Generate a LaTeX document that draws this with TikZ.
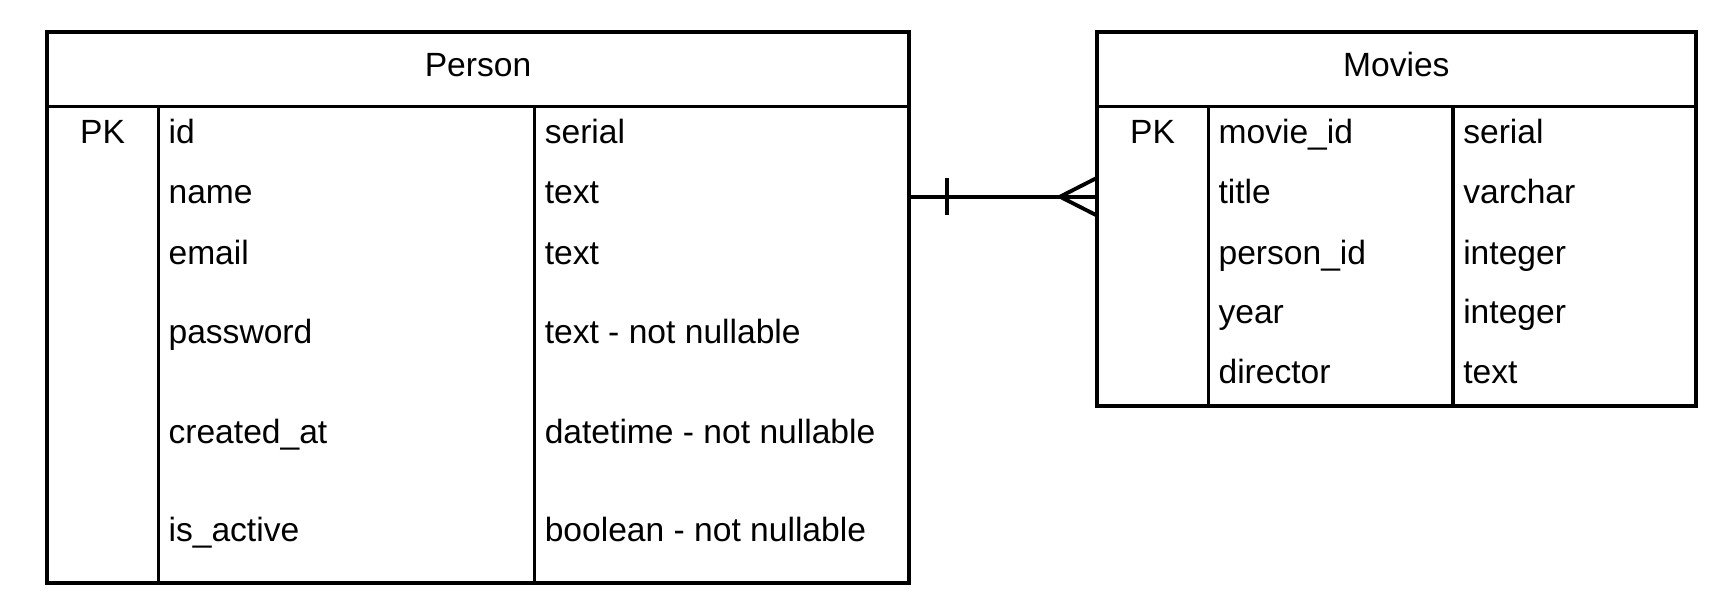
\documentclass[tikz,border=0pt]{standalone}
\usepackage{fontspec}
\setmainfont{Liberation Sans}
\usetikzlibrary{calc}

\tikzset{
  field/.style={anchor=base west, inner sep=0pt},
  keycell/.style={anchor=base, inner sep=0pt},
  tabletitle/.style={anchor=base, inner sep=0pt},
  frame/.style={line width=2.9pt},
  divider/.style={line width=2.4pt},
  relation/.style={line width=2.9pt},
}

\begin{document}
\begin{tikzpicture}[x=0.75pt,y=0.75pt,yscale=-1,xscale=1,font=\fontsize{25.2}{30}\selectfont]

\useasboundingbox (0,0) rectangle (1733,606);

% Person table
\draw[frame]   (46.7,32.3) rectangle (909.3,583.3) ;

\draw[frame]   (46.7,106.5) -- (909.3,106.5) ;

\draw[divider]   (158.3,106.5) -- (158.3,583.3) ;

\draw[divider]   (534.3,106.5) -- (534.3,583.3) ;

% Movies table
\draw[frame]   (1096.7,32.3) rectangle (1696,406) ;

\draw[frame]   (1096.7,106.5) -- (1696,106.5) ;

\draw[divider]   (1208.3,106.5) -- (1208.3,406) ;

\draw[divider]   (1453,106.5) -- (1453,406) ;

% relation person -> movies
\coordinate (personR) at (909.3,196.7);
\coordinate (moviesL) at (1096.7,196.7);

\draw[relation]   (personR) -- (moviesL) ;

\draw[relation]   ($(personR)+(37.4,-18.7)$) -- ($(personR)+(37.4,18.7)$) ;

\draw[relation]   ($(moviesL)+(0,-18.7)$) -- ($(moviesL)+(-36.7,0)$) -- ($(moviesL)+(0,18.7)$) ;


\draw (478,76.5) node [tabletitle] (personTitle) {Person};

\draw (102.5,143.5) node [keycell] (personPK) {PK};

\draw (168.3,143.5) node [field] (personId) {id};

\draw (544.5,143.5) node [field] (personIdType) {serial};

\draw (168.3,203.3) node [field] (personName) {name};

\draw (544.5,203.3) node [field] (personNameType) {text};

\draw (168.3,264) node [field] (personEmail) {email};

\draw (544.5,264) node [field] (personEmailType) {text};

\draw (168.3,343) node [field] (personPassword) {password};

\draw (544.5,343) node [field] (personPasswordType) {text - not nullable};

\draw (168.3,443) node [field] (personCreated) {created\_at};

\draw (544.5,443) node [field] (personCreatedType) {datetime - not nullable};

\draw (168.3,541.7) node [field] (personActive) {is\_active};

\draw (544.5,541.7) node [field] (personActiveType) {boolean - not nullable};


\draw (1396.3,76.5) node [tabletitle] (moviesTitle) {Movies};

\draw (1152.5,143.5) node [keycell] (moviesPK) {PK};

\draw (1218.3,143.5) node [field] (moviesId) {movie\_id};

\draw (1463,143.5) node [field] (moviesIdType) {serial};

\draw (1218.3,203.3) node [field] (moviesTitleCol) {title};

\draw (1463,203.3) node [field] (moviesTitleType) {varchar};

\draw (1218.3,264) node [field] (moviesPerson) {person\_id};

\draw (1463,264) node [field] (moviesPersonType) {integer};

\draw (1218.3,323.8) node [field] (moviesYear) {year};

\draw (1463,323.8) node [field] (moviesYearType) {integer};

\draw (1218.3,383.5) node [field] (moviesDirector) {director};

\draw (1463,383.5) node [field] (moviesDirectorType) {text};

\end{tikzpicture}
\end{document}
